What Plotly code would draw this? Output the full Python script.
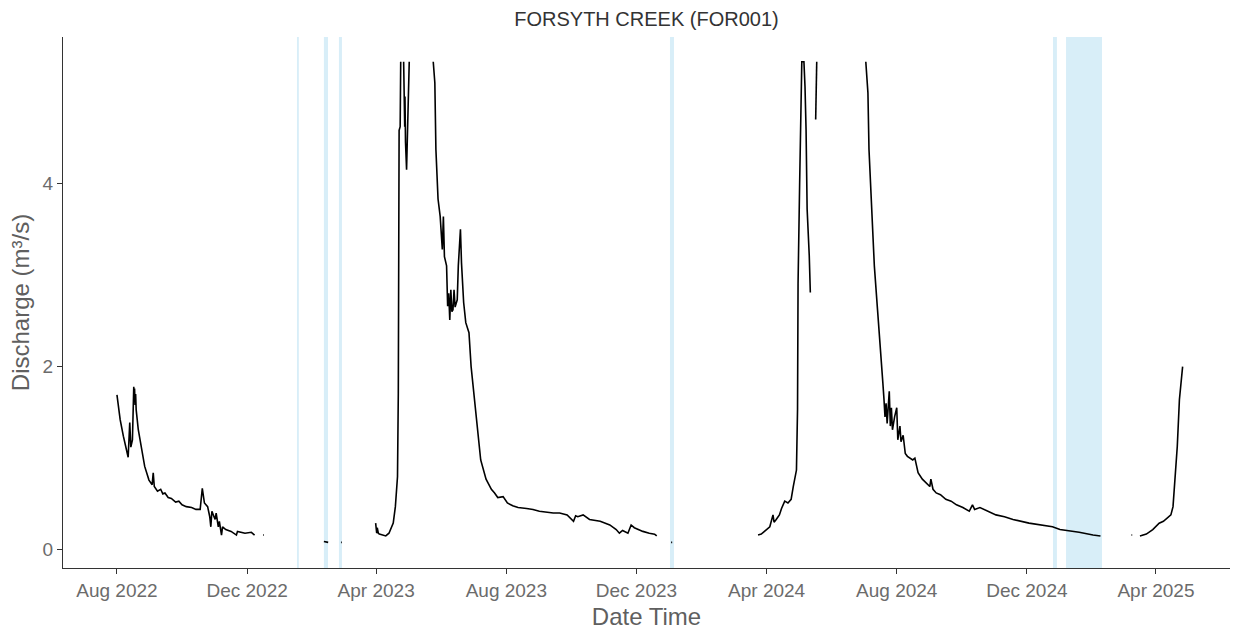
import plotly.graph_objects as go

# Forsyth Creek (FOR001) discharge record, m³/s.
# Each segment is a continuous run of logger data; gaps break the line.

seg_2022_t = [
    "2022-08-01", "2022-08-04", "2022-08-07", "2022-08-10", "2022-08-11 12:00",
    "2022-08-13", "2022-08-14", "2022-08-15 12:00", "2022-08-16 18:00", "2022-08-17",
    "2022-08-17 12:00", "2022-08-18", "2022-08-18 12:00", "2022-08-19", "2022-08-21",
    "2022-08-24", "2022-08-27", "2022-08-31", "2022-09-03", "2022-09-04",
    "2022-09-05", "2022-09-08", "2022-09-11", "2022-09-13", "2022-09-15",
    "2022-09-18", "2022-09-21", "2022-09-25", "2022-09-28", "2022-10-01",
    "2022-10-05", "2022-10-10", "2022-10-14", "2022-10-18", "2022-10-20",
    "2022-10-22", "2022-10-25", "2022-10-27", "2022-10-28", "2022-10-29",
    "2022-11-01", "2022-11-02", "2022-11-04", "2022-11-05", "2022-11-07",
    "2022-11-08", "2022-11-11", "2022-11-16", "2022-11-21", "2022-11-22",
    "2022-11-29", "2022-12-05", "2022-12-08",
]
seg_2022_q = [
    1.69, 1.42, 1.24, 1.09, 1.01,
    1.39, 1.12, 1.20, 1.78, 1.62,
    1.76, 1.58, 1.70, 1.53, 1.31,
    1.09, 0.91, 0.76, 0.71, 0.84,
    0.69, 0.64, 0.66, 0.61, 0.62,
    0.57, 0.56, 0.52, 0.53, 0.49,
    0.47, 0.46, 0.44, 0.44, 0.67,
    0.51, 0.47, 0.36, 0.25, 0.42,
    0.33, 0.40, 0.25, 0.31, 0.16,
    0.25, 0.22, 0.20, 0.16, 0.20,
    0.18, 0.19, 0.16,
]

# short winter fragments
frag_dec22_t = ["2022-12-16", "2022-12-16 18:00"]
frag_dec22_q = [0.16, 0.16]
frag_feb23a_t = ["2023-02-11", "2023-02-15"]
frag_feb23a_q = [0.09, 0.08]
frag_feb23b_t = ["2023-02-27", "2023-02-27 18:00"]
frag_feb23b_q = [0.08, 0.08]

seg_spring23_t = [
    "2023-03-31 12:00", "2023-04-01 12:00", "2023-04-02", "2023-04-03", "2023-04-04",
    "2023-04-10", "2023-04-13", "2023-04-17", "2023-04-19", "2023-04-20",
    "2023-04-21", "2023-04-21 18:00", "2023-04-22 12:00", "2023-04-23 12:00", "2023-04-24",
]
seg_spring23_q = [
    0.29, 0.18, 0.24, 0.18, 0.17,
    0.15, 0.18, 0.29, 0.47, 0.62,
    0.80, 1.71, 4.58, 4.62, 5.33,
]

seg_peak23_t = [
    "2023-04-26 18:00", "2023-04-27 06:00", "2023-04-27 18:00", "2023-04-28", "2023-04-28 12:00",
    "2023-04-29 12:00", "2023-04-30 12:00", "2023-05-01", "2023-05-02",
]
seg_peak23_q = [5.33, 4.85, 4.62, 4.95, 4.45, 4.15, 4.60, 4.75, 5.33]

seg_recess23_t = [
    "2023-05-24 12:00", "2023-05-26", "2023-05-27", "2023-05-29", "2023-05-31",
    "2023-06-01", "2023-06-02", "2023-06-03", "2023-06-04", "2023-06-06",
    "2023-06-07", "2023-06-08", "2023-06-09", "2023-06-10", "2023-06-11",
    "2023-06-12", "2023-06-13", "2023-06-14", "2023-06-16", "2023-06-17",
    "2023-06-19", "2023-06-20", "2023-06-21", "2023-06-22", "2023-06-24",
    "2023-06-27", "2023-06-29", "2023-07-02", "2023-07-05", "2023-07-08",
    "2023-07-13", "2023-07-18", "2023-07-21", "2023-07-24", "2023-07-29",
    "2023-08-02", "2023-08-07", "2023-08-12", "2023-08-20", "2023-08-26",
    "2023-09-01", "2023-09-07", "2023-09-14", "2023-09-20", "2023-09-27",
    "2023-10-03", "2023-10-05", "2023-10-07", "2023-10-12", "2023-10-18",
    "2023-10-28", "2023-11-06", "2023-11-12", "2023-11-15", "2023-11-18",
    "2023-11-23", "2023-11-26", "2023-11-29", "2023-12-07", "2023-12-13",
    "2023-12-18", "2023-12-20",
]
seg_recess23_q = [
    5.33, 5.10, 4.37, 3.83, 3.64,
    3.40, 3.28, 3.64, 3.20, 3.10,
    2.66, 2.80, 2.51, 2.84, 2.60,
    2.62, 2.84, 2.65, 2.73, 3.10,
    3.50, 3.13, 2.95, 2.70, 2.48,
    2.37, 2.00, 1.64, 1.28, 0.98,
    0.77, 0.66, 0.62, 0.57, 0.58,
    0.51, 0.48, 0.46, 0.45, 0.44,
    0.42, 0.41, 0.40, 0.40, 0.38,
    0.31, 0.37, 0.36, 0.38, 0.33,
    0.31, 0.27, 0.22, 0.18, 0.21,
    0.18, 0.27, 0.24, 0.20, 0.18,
    0.17, 0.15,
]

frag_jan24_t = ["2024-01-02 12:00", "2024-01-03 12:00"]
frag_jan24_q = [0.08, 0.08]

seg_spring24_t = [
    "2024-03-24", "2024-03-27", "2024-03-30", "2024-04-04", "2024-04-07",
    "2024-04-08", "2024-04-10", "2024-04-13", "2024-04-15", "2024-04-18",
    "2024-04-21", "2024-04-24", "2024-04-26", "2024-04-29", "2024-04-30",
    "2024-04-30 12:00", "2024-05-02", "2024-05-03", "2024-05-04", "2024-05-06",
    "2024-05-07", "2024-05-08", "2024-05-09", "2024-05-11", "2024-05-12",
]
seg_spring24_q = [
    0.16, 0.17, 0.20, 0.25, 0.38,
    0.30, 0.33, 0.38, 0.45, 0.53,
    0.51, 0.55, 0.69, 0.87, 1.53,
    2.91, 4.01, 4.88, 5.33, 5.33,
    5.06, 4.59, 3.72, 3.21, 2.81,
]

seg_may24_t = ["2024-05-17", "2024-05-18"]
seg_may24_q = [4.70, 5.33]

seg_recess24_t = [
    "2024-07-03", "2024-07-05", "2024-07-06", "2024-07-09", "2024-07-11",
    "2024-07-14", "2024-07-17", "2024-07-19", "2024-07-20", "2024-07-21",
    "2024-07-22", "2024-07-23", "2024-07-25", "2024-07-26", "2024-07-27",
    "2024-07-28", "2024-07-30", "2024-08-01", "2024-08-02", "2024-08-04",
    "2024-08-05", "2024-08-07", "2024-08-09", "2024-08-11", "2024-08-16",
    "2024-08-18", "2024-08-21", "2024-08-25", "2024-09-01", "2024-09-02",
    "2024-09-04", "2024-09-07", "2024-09-11", "2024-09-16", "2024-09-21",
    "2024-09-26", "2024-10-02", "2024-10-08", "2024-10-11", "2024-10-13",
    "2024-10-18", "2024-10-25", "2024-11-02", "2024-11-10", "2024-11-18",
    "2024-12-03", "2024-12-13", "2024-12-25", "2025-01-01", "2025-01-07",
    "2025-01-19", "2025-02-01", "2025-02-08",
]
seg_recess24_q = [
    5.33, 4.99, 4.37, 3.64, 3.10,
    2.62, 2.19, 1.82, 1.65, 1.45,
    1.60, 1.38, 1.73, 1.35, 1.55,
    1.31, 1.45, 1.55, 1.20, 1.35,
    1.18, 1.25, 1.05, 1.02, 0.98,
    1.00, 0.84, 0.77, 0.69, 0.77,
    0.66, 0.62, 0.60, 0.55, 0.53,
    0.49, 0.46, 0.42, 0.49, 0.44,
    0.46, 0.42, 0.38, 0.36, 0.33,
    0.29, 0.27, 0.25, 0.22, 0.21,
    0.19, 0.16, 0.15,
]

frag_mar25_t = ["2025-03-09", "2025-03-09 18:00"]
frag_mar25_q = [0.16, 0.16]

seg_spring25_t = [
    "2025-03-17", "2025-03-20", "2025-03-23", "2025-03-29", "2025-04-04",
    "2025-04-08", "2025-04-11", "2025-04-15", "2025-04-17", "2025-04-19",
    "2025-04-21", "2025-04-23", "2025-04-25", "2025-04-26",
]
seg_spring25_q = [
    0.15, 0.16, 0.17, 0.22, 0.29,
    0.31, 0.34, 0.38, 0.47, 0.77,
    1.13, 1.64, 1.86, 2.00,
]

# periods flagged on the record (shaded)
band_start = ["2023-01-16 18:00", "2023-02-11", "2023-02-25 02:00",
              "2024-01-01 10:00", "2024-12-25 12:00", "2025-01-06 17:00"]
band_end = ["2023-01-18 12:00", "2023-02-14 20:00", "2023-02-27 22:00",
            "2024-01-05 04:00", "2024-12-29 04:00", "2025-02-09 10:00"]

y_ticks = [0, 2, 4]

segments = [
    (seg_2022_t, seg_2022_q),
    (frag_dec22_t, frag_dec22_q),
    (frag_feb23a_t, frag_feb23a_q),
    (frag_feb23b_t, frag_feb23b_q),
    (seg_spring23_t, seg_spring23_q),
    (seg_peak23_t, seg_peak23_q),
    (seg_recess23_t, seg_recess23_q),
    (frag_jan24_t, frag_jan24_q),
    (seg_spring24_t, seg_spring24_q),
    (seg_may24_t, seg_may24_q),
    (seg_recess24_t, seg_recess24_q),
    (frag_mar25_t, frag_mar25_q),
    (seg_spring25_t, seg_spring25_q),
]

time, flow = [], []
for st, sq in segments:
    time += list(st) + [None]
    flow += list(sq) + [None]

FONT = "Liberation Sans, Arial, sans-serif"

fig = go.Figure()
fig.add_trace(go.Scatter(
    x=time, y=flow, mode="lines",
    line=dict(color="black", width=1.6),
    connectgaps=False, showlegend=False,
))

for s, e in zip(band_start, band_end):
    fig.add_shape(type="rect", xref="x", yref="paper",
                  x0=s, x1=e, y0=0, y1=1,
                  fillcolor="#d8eef8", line=dict(width=0), layer="below")

fig.update_layout(
    width=1236, height=630,
    margin=dict(l=63, r=6, t=37, b=62),
    paper_bgcolor="white", plot_bgcolor="white",
    font=dict(family=FONT),
    title=dict(text="FORSYTH CREEK (FOR001)", x=0.5, xref="paper",
               y=1 - 19 / 630, yref="container", yanchor="middle",
               font=dict(size=20, color="#333333", family=FONT)),
)
fig.update_xaxes(
    type="date",
    range=["2022-06-11 10:00", "2025-06-09 10:00"],
    tick0="2022-08-01", dtick="M4", tickformat="%b %Y",
    showgrid=False, zeroline=False,
    showline=True, linecolor="#333333", linewidth=1,
    ticks="outside", ticklen=5, tickcolor="#333333",
    tickfont=dict(size=19, color="#6b6b6b"),
    title=dict(text="Date Time", font=dict(size=24, color="#5f5f5f"), standoff=9),
    automargin=False,
)
fig.update_yaxes(
    range=[-0.2, 5.6],
    tickvals=y_ticks,
    showgrid=False, zeroline=False,
    showline=True, linecolor="#333333", linewidth=1,
    ticks="outside", ticklen=5, tickcolor="#333333",
    tickfont=dict(size=19, color="#6b6b6b"),
    title=dict(text="Discharge (m³/s)", font=dict(size=24, color="#5f5f5f"), standoff=6),
    automargin=False,
)

fig.write_html("out.html")
